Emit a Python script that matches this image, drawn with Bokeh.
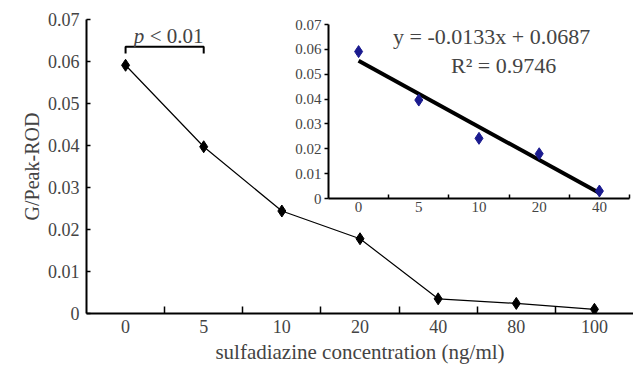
from bokeh.plotting import figure
from bokeh.models import Range1d, FixedTicker, Label
from bokeh.embed import file_html
from bokeh.resources import INLINE

# ---- data ----
concentrations = ["0", "5", "10", "20", "40", "80", "100"]
g_peak_rod = [0.0591, 0.0397, 0.0244, 0.0178, 0.0035, 0.0024, 0.0010]

inset_conc = ["0", "5", "10", "20", "40"]
inset_vals = [0.0591, 0.0396, 0.0242, 0.0180, 0.0030]
fit_slope = -0.0133
fit_intercept = 0.0687
fit_r2 = 0.9746

y_ticks = [0, 0.01, 0.02, 0.03, 0.04, 0.05, 0.06, 0.07]
y_tick_labels = ["0", "0.01", "0.02", "0.03", "0.04", "0.05", "0.06", "0.07"]

FONT = "Liberation Serif"

# ---- main figure ----
n = len(concentrations)
xs = list(range(n))
p = figure(width=633, height=366, output_backend="svg", toolbar_location=None,
           x_range=Range1d(-0.5, n - 0.5), y_range=Range1d(0, 0.07),
           min_border_left=86, min_border_right=0, min_border_top=19, min_border_bottom=51)
p.background_fill_color = "white"
p.border_fill_color = "white"
p.outline_line_color = None
p.grid.grid_line_color = None

p.line(xs, g_peak_rod, line_color="black", line_width=1.2)
p.scatter(xs, g_peak_rod, marker="diamond", size=12, color="black")

xa = p.xaxis[0]
xa.ticker = FixedTicker(ticks=xs, minor_ticks=[i + 0.5 for i in xs[:-1]])
xa.major_label_overrides = {i: c for i, c in zip(xs, concentrations)}
xa.major_tick_in = 0
xa.major_tick_out = 0
xa.minor_tick_in = 7
xa.minor_tick_out = 0
xa.minor_tick_line_width = 1.5
xa.axis_line_width = 2
xa.major_label_text_font = FONT
xa.major_label_text_font_size = "18px"
xa.major_label_standoff = 6
xa.axis_label = "sulfadiazine concentration (ng/ml)"
xa.axis_label_text_font = FONT
xa.axis_label_text_font_size = "21px"
xa.axis_label_text_font_style = "normal"
xa.axis_label_standoff = 4

ya = p.yaxis[0]
ya.ticker = FixedTicker(ticks=y_ticks, minor_ticks=[])
ya.major_label_overrides = {t: l for t, l in zip(y_ticks, y_tick_labels)}
ya.major_tick_in = 4
ya.major_tick_out = 0
ya.major_tick_line_width = 1.5
ya.minor_tick_line_color = None
ya.axis_line_width = 2
ya.major_label_text_font = FONT
ya.major_label_text_font_size = "18px"
ya.major_label_standoff = 7
ya.axis_label = "G/Peak-ROD"
ya.axis_label_text_font = FONT
ya.axis_label_text_font_size = "20px"
ya.axis_label_text_font_style = "normal"
ya.axis_label_standoff = 2

# significance bracket between first two concentrations
p.line([0, 0, 1, 1], [0.0619, 0.0635, 0.0635, 0.0619], line_color="black", line_width=2)
p.add_layout(Label(x=0.5, y=0.066, text="p", text_font=FONT, text_font_size="21px",
                   text_font_style="italic", x_offset=-31, text_baseline="alphabetic"))
p.add_layout(Label(x=0.5, y=0.066, text="< 0.01", text_font=FONT, text_font_size="21px",
                   x_offset=-15, text_baseline="alphabetic"))

# ---- inset figure ----
m = len(inset_conc)
ixs = list(range(m))
inset = figure(frame_width=301, frame_height=174, output_backend="svg", toolbar_location=None,
               x_range=Range1d(-0.5, m - 0.5), y_range=Range1d(0, 0.07),
               min_border_left=35, min_border_right=5, min_border_top=16, min_border_bottom=26)
inset.background_fill_alpha = 0
inset.border_fill_alpha = 0
inset.outline_line_color = None
inset.grid.grid_line_color = None
inset.styles = {"position": "absolute", "left": "292px", "top": "8px"}

fit_x = [ixs[0], ixs[-1]]
fit_y = [fit_slope * (i + 1) + fit_intercept for i in fit_x]
inset.line(fit_x, fit_y, line_color="black", line_width=4)
inset.scatter(ixs, inset_vals, marker="diamond", size=12, color="#1a1a8f")

ixa = inset.xaxis[0]
ixa.ticker = FixedTicker(ticks=ixs, minor_ticks=[i + 0.5 for i in ixs])
ixa.major_label_overrides = {i: c for i, c in zip(ixs, inset_conc)}
ixa.major_tick_in = 0
ixa.major_tick_out = 0
ixa.minor_tick_in = 4
ixa.minor_tick_out = 0
ixa.minor_tick_line_width = 1.5
ixa.axis_line_width = 2
ixa.major_label_text_font = FONT
ixa.major_label_text_font_size = "15px"
ixa.major_label_standoff = 3

iya = inset.yaxis[0]
iya.ticker = FixedTicker(ticks=y_ticks, minor_ticks=[])
iya.major_label_overrides = {t: l for t, l in zip(y_ticks, y_tick_labels)}
iya.major_tick_in = 0
iya.major_tick_out = 4
iya.major_tick_line_width = 1.5
iya.minor_tick_line_color = None
iya.axis_line_width = 2
iya.major_label_text_font = FONT
iya.major_label_text_font_size = "15px"
iya.major_label_standoff = 3

eq_text = "y = %.4fx + %.4f" % (fit_slope, fit_intercept)
inset.add_layout(Label(x=2.21, y=0.0653, text=eq_text, text_font=FONT, text_font_size="22px",
                       text_align="center", text_baseline="middle"))
inset.add_layout(Label(x=2.41, y=0.0535, text="R\u00b2 = %.4f" % fit_r2, text_font=FONT,
                       text_font_size="22px", text_align="center", text_baseline="middle"))

open("out.html", "w").write(file_html([p, inset], INLINE))
